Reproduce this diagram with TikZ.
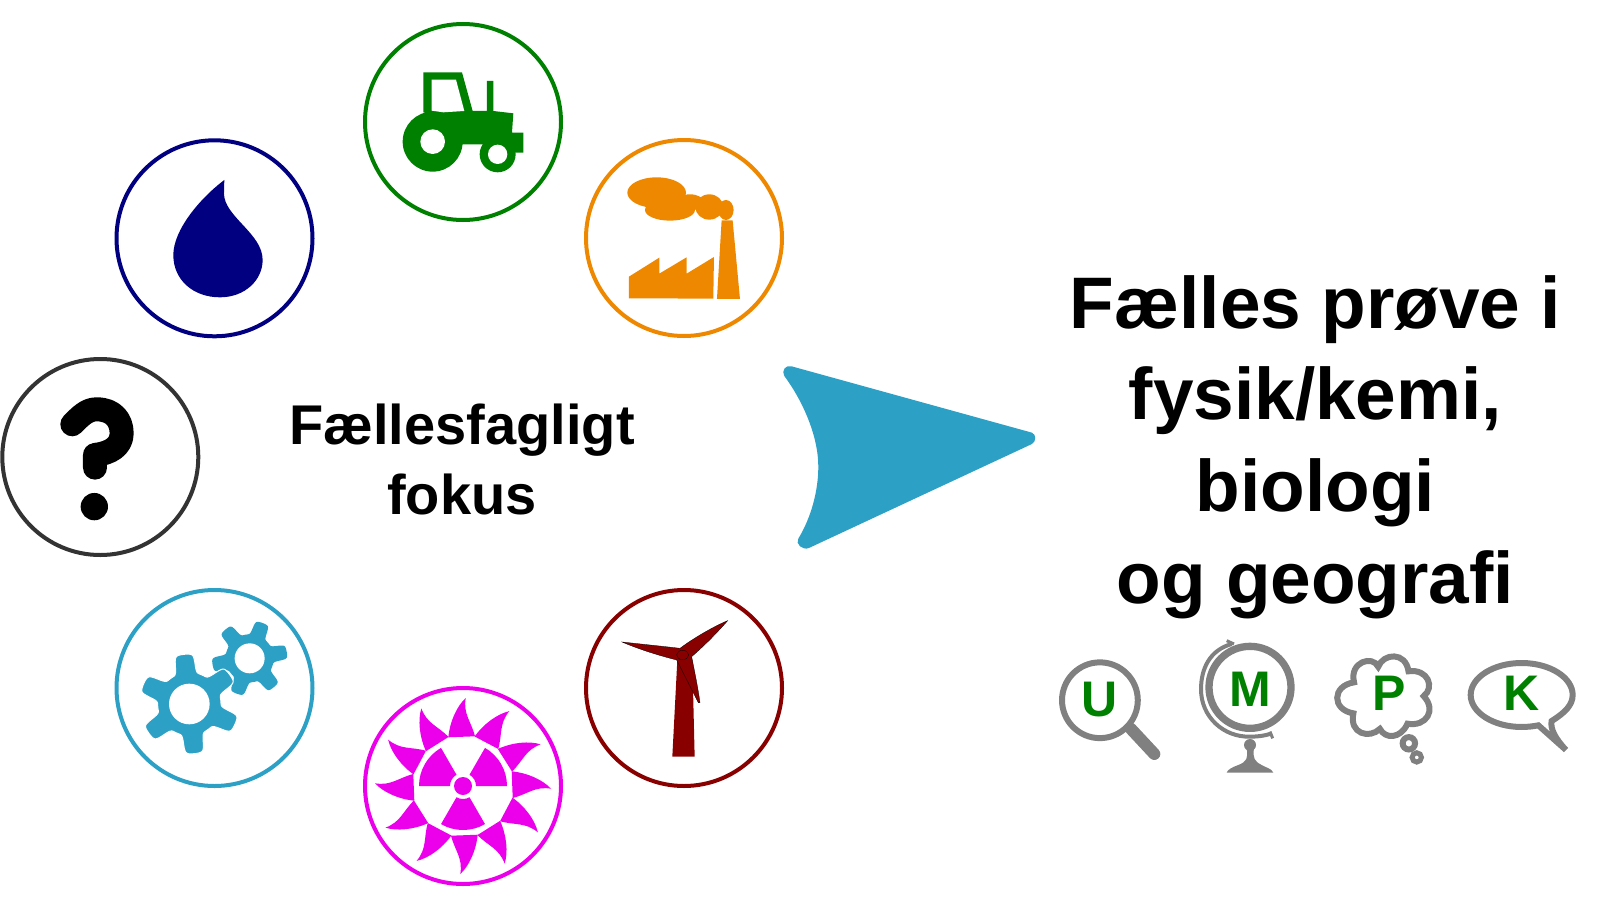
\documentclass[tikz,border=0pt]{standalone}
\usepackage{fontspec}
\setmainfont{Liberation Sans}
\definecolor{tractorgreen}{RGB}{0,128,0}
\definecolor{factoryorange}{RGB}{238,136,0}
\definecolor{waterblue}{RGB}{0,0,128}
\definecolor{askgrey}{RGB}{51,51,51}
\definecolor{gearblue}{RGB}{44,160,197}
\definecolor{atommagenta}{RGB}{236,0,236}
\definecolor{winddarkred}{RGB}{136,0,0}
\definecolor{testgrey}{RGB}{128,128,128}
\tikzset{
  ring/.style={circle,line width=4pt,minimum size=196pt,inner sep=0pt},
  zoomed/.style={shift={#1},x=.3333pt,y=-.3333pt},
  bigtext/.style={font=\bfseries\fontsize{73}{91.7}\selectfont,align=center,inner sep=0pt},
  focustext/.style={font=\bfseries\fontsize{56}{70.5}\selectfont,align=center,inner sep=0pt},
  skilltext/.style={font=\bfseries\fontsize{50}{50}\selectfont,text=tractorgreen,inner sep=0pt},
  skillline/.style={draw=testgrey,line width=6pt}
}
\begin{document}
\begin{tikzpicture}[x=1pt,y=-1pt,
  declare function={gearbump(\t)=3*((1+cos(6*\t))/2)^3/pow(1+(3*((1+cos(6*\t))/2)^3)^4,.25);}]
\useasboundingbox (0,0) rectangle (1600,899);
\foreach \ringname/\ringpos/\ringcol in {tractor/{(463,122)}/tractorgreen,
    factory/{(684,238)}/factoryorange,water/{(214.5,238.3)}/waterblue,
    ask/{(100.3,457)}/askgrey,gear/{(214.5,688)}/gearblue,
    atom/{(463,786)}/atommagenta,wind/{(684,688)}/winddarkred}
   \node[ring,draw=\ringcol] (\ringname) at \ringpos {};
\begin{scope}[zoomed={(350,15)}]
\fill[tractorgreen] (220,172) -- (336,172) -- (368,288) -- (411,288) -- (411,198)
  -- (430,198) -- (430,288) -- (490,295) -- (486,353) -- (520,353) -- (520,413)
  -- (443,413) -- (443,388) -- (248,388) -- (248,300) -- (220,292) -- cycle;
\fill[tractorgreen] (248,380) circle (90) (443,418) circle (54);
\fill[white] (245,194) -- (318,194) -- (343,288) -- (280,292) -- (245,287) -- cycle;
\fill[white] (248,380) circle (37) (443,418) circle (29);
\fill[factoryorange] (837,785) -- (928,728) -- (928,776) -- (1010,727) -- (1010,776)
  -- (1092,726) -- (1090,851) -- (837,850) -- cycle;
\fill[factoryorange] (1115,616) -- (1148,616) -- (1170,852) -- (1101,852) -- cycle;
\fill[factoryorange] (920,533) ellipse (88 and 46) (960,585) ellipse (75 and 32)
  (1020,562) ellipse (42 and 24) (1078,576) ellipse (42 and 38) (1128,585) ellipse (23 and 30);
\end{scope}
\begin{scope}[zoomed={(0,130)}]
\fill[waterblue] (673,150) .. controls (600,205) and (520,300) .. (520,375)
  .. controls (520,450) and (580,502) .. (660,502)
  .. controls (735,502) and (788,450) .. (788,390)
  .. controls (788,310) and (672,260) .. (672,190) -- cycle;
\draw[black,line width=24pt,line cap=round,line join=round] (217,883)
  .. controls (240,860) and (260,838) .. (290,838)
  .. controls (340,838) and (365,870) .. (365,910)
  .. controls (365,950) and (330,970) .. (285,975) -- (285,1013);
\fill[black] (283,1130) circle (41);
\end{scope}
\begin{scope}[zoomed={(100,570)}]
\begin{scope}[shift={(449,265)},y=.3333pt]
\fill[gearblue] plot[domain=0:360,samples=240] (\x:{72+41*gearbump(\x-70)}) -- cycle;
\fill[white] (0,0) circle (45);
\end{scope}
\begin{scope}[shift={(268,402)},y=.3333pt]
\filldraw[fill=gearblue,draw=white,line width=1pt] plot[domain=0:360,samples=240] (\x:{95+55*gearbump(\x-96)}) -- cycle;
\fill[white] (0,0) circle (61);
\end{scope}
\end{scope}
\begin{scope}[shift={(463,786)}]
\foreach \a in {0,30,...,330}
   \fill[atommagenta,rotate=\a] (-14.7,-48.7) .. controls (-13,-65) and (-6,-80) .. (2.7,-88)
     .. controls (0,-72) and (8,-65) .. (12,-49.7) -- cycle;
\begin{scope}[y=1pt]
\foreach \a in {0,120,240}
   \fill[atommagenta] (\a:13) -- (\a:44) arc (\a:\a+60:44) -- (\a+60:13) arc (\a+60:\a:13) -- cycle;
\fill[atommagenta] (0,0) circle (9);
\end{scope}
\end{scope}
\begin{scope}[zoomed={(560,340)}]
\fill[winddarkred] (352,960) -- (337,1250) -- (404,1250) -- (397,960) -- cycle;
\filldraw[fill=winddarkred,draw=black,line width=.3pt] (186,906) .. controls (240,912) and (300,918) .. (360,925)
  .. controls (400,895) and (460,860) .. (503,842)
  .. controls (470,880) and (430,920) .. (395,950)
  .. controls (405,1000) and (415,1050) .. (420,1088) -- (415,1088)
  -- (350,960) .. controls (290,945) and (230,925) .. (186,906) -- cycle;
\draw[black,line width=.3pt] (368,945) ellipse (18 and 14);
\fill[gearblue] (715,596) .. controls (755,530) and (775,450) .. (775,380)
  .. controls (775,290) and (730,185) .. (673,108)
  .. controls (663,92) and (678,73) .. (695,79) -- (1416,278)
  .. controls (1429,283) and (1429,305) .. (1416,312) -- (747,624)
  .. controls (728,632) and (705,612) .. (715,596) -- cycle;
\end{scope}
\node[focustext] (focus) at (462,459.5) {Fællesfagligt\\fokus};
\node[bigtext] (exam) at (1315.4,447) {Fælles prøve i\\fysik/kemi,\\biologi\\og geografi};
\begin{scope}[zoomed={(1020,610)},x=.3444pt,y=-.3444pt]
\draw[skillline] (232,262) circle (110);
\draw[testgrey,line width=12pt,line cap=round] (322,345) -- (390,418);
\draw[skillline] (970,210) .. controls (955,150) and (1025,130) .. (1040,165)
  .. controls (1055,125) and (1120,120) .. (1128,178)
  .. controls (1185,170) and (1205,225) .. (1172,250)
  .. controls (1210,290) and (1180,340) .. (1125,330)
  .. controls (1105,375) and (1060,375) .. (1045,345)
  .. controls (1015,375) and (955,360) .. (968,300)
  .. controls (905,290) and (905,220) .. (970,210) -- cycle;
\draw[skillline] (1129,387) circle (18);
\draw[testgrey,line width=5pt] (1152,428) circle (13.5);
\end{scope}
\begin{scope}[zoomed={(1190,630)}]
\draw[testgrey,line width=7.3pt] (180,172) circle (123);
\draw[testgrey,line width=4pt] (125,42) .. controls (60,60) and (33,115) .. (33,178)
  .. controls (33,260) and (100,322) .. (180,320) .. controls (210,320) and (232,315) .. (245,310);
\draw[testgrey,line width=3pt] (110,32) -- (132,42) (240,305) -- (248,325);
\fill[testgrey] (180,345) circle (18);
\fill[testgrey] (170,355) .. controls (175,385) and (170,395) .. (145,405)
  .. controls (125,412) and (112,420) .. (110,428) -- (250,428)
  .. controls (245,415) and (225,412) .. (215,405)
  .. controls (195,395) and (187,385) .. (192,355) -- cycle;
\end{scope}
\begin{scope}[zoomed={(1440,640)}]
\draw[skillline,miter limit=4] (335,243) .. controls (375,218) and (398,195) .. (398,165)
  .. controls (398,112) and (329,69) .. (245,69)
  .. controls (161,69) and (92,112) .. (92,165)
  .. controls (92,218) and (161,261) .. (245,261)
  .. controls (262,261) and (280,259) .. (295,256)
  -- (378,330) .. controls (345,295) and (330,265) .. (335,243) -- cycle;
\end{scope}
\node[skilltext] (ulabel) at (1100,699.5) {U};
\node[skilltext] (mlabel) at (1250,689.3) {M};
\node[skilltext] (plabel) at (1389.5,693.5) {P};
\node[skilltext] (klabel) at (1521.7,693.3) {K};
\end{tikzpicture}
\end{document}
